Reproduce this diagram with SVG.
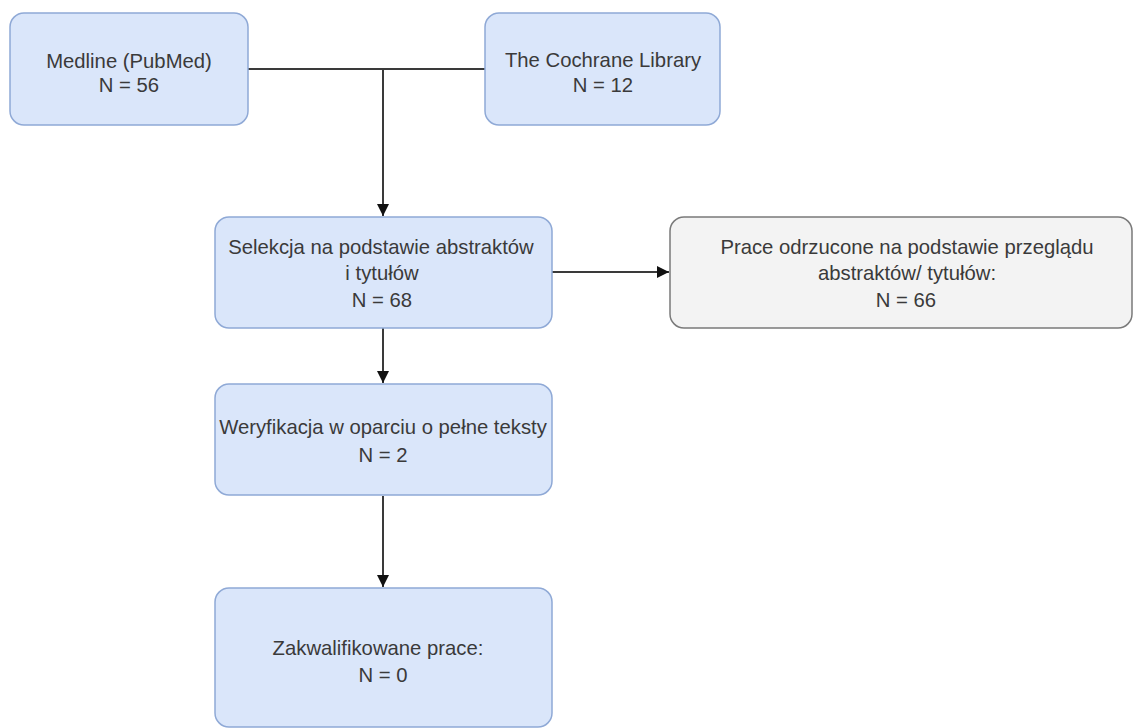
<svg xmlns="http://www.w3.org/2000/svg" width="1133" height="728" viewBox="0 0 1133 728">
<style>
.blue{fill:#dae6fa;stroke:#8fa9d6;stroke-width:1.5}
.gray{fill:#f3f3f3;stroke:#7a7a7a;stroke-width:1.5}
.t{font-family:"Liberation Sans",Arial,sans-serif;font-size:20.3px;fill:#3a3a3a;text-anchor:middle}
.c{fill:none;stroke:#3a3a3a;stroke-width:2}
</style>
<defs>
<marker id="arr" viewBox="0 0 10 10" refX="10" refY="5" markerWidth="6" markerHeight="6" markerUnits="strokeWidth" orient="auto">
<path d="M0,0 L10,5 L0,10 Z" fill="#111"/>
</marker>
</defs>
<rect width="1133" height="728" fill="#ffffff"/>
<g id="connectors">
<path class="c" d="M248,69 H485"/>
<path class="c" d="M383,69 V216" marker-end="url(#arr)"/>
<path class="c" d="M383,328 V383" marker-end="url(#arr)"/>
<path class="c" d="M383,496 V587" marker-end="url(#arr)"/>
<path class="c" d="M552,272 H669" marker-end="url(#arr)"/>
</g>
<g id="medline">
<rect class="blue" x="10" y="13" width="238" height="112" rx="14"/>
<text class="t" x="129" y="68">Medline (PubMed)</text>
<text class="t" x="129" y="92">N = 56</text>
</g>
<g id="cochrane">
<rect class="blue" x="485" y="13" width="235" height="112" rx="14"/>
<text class="t" x="603" y="67">The Cochrane Library</text>
<text class="t" x="603" y="92">N = 12</text>
</g>
<g id="selekcja">
<rect class="blue" x="215" y="217" width="337" height="111" rx="14"/>
<text class="t" x="381" y="254">Selekcja na podstawie abstraktów</text>
<text class="t" x="382" y="280">i tytułów</text>
<text class="t" x="382" y="307">N = 68</text>
</g>
<g id="odrzucone">
<rect class="gray" x="670" y="217" width="462" height="111" rx="14"/>
<text class="t" x="907" y="254">Prace odrzucone na podstawie przeglądu</text>
<text class="t" x="907" y="280">abstraktów/ tytułów:</text>
<text class="t" x="906" y="307">N = 66</text>
</g>
<g id="weryfikacja">
<rect class="blue" x="215" y="384" width="337" height="111" rx="14"/>
<text class="t" x="383" y="434">Weryfikacja w oparciu o pełne teksty</text>
<text class="t" x="383" y="462">N = 2</text>
</g>
<g id="zakwalifikowane">
<rect class="blue" x="215" y="588" width="337" height="139" rx="14"/>
<text class="t" x="378" y="655">Zakwalifikowane prace:</text>
<text class="t" x="383" y="682">N = 0</text>
</g>
</svg>
